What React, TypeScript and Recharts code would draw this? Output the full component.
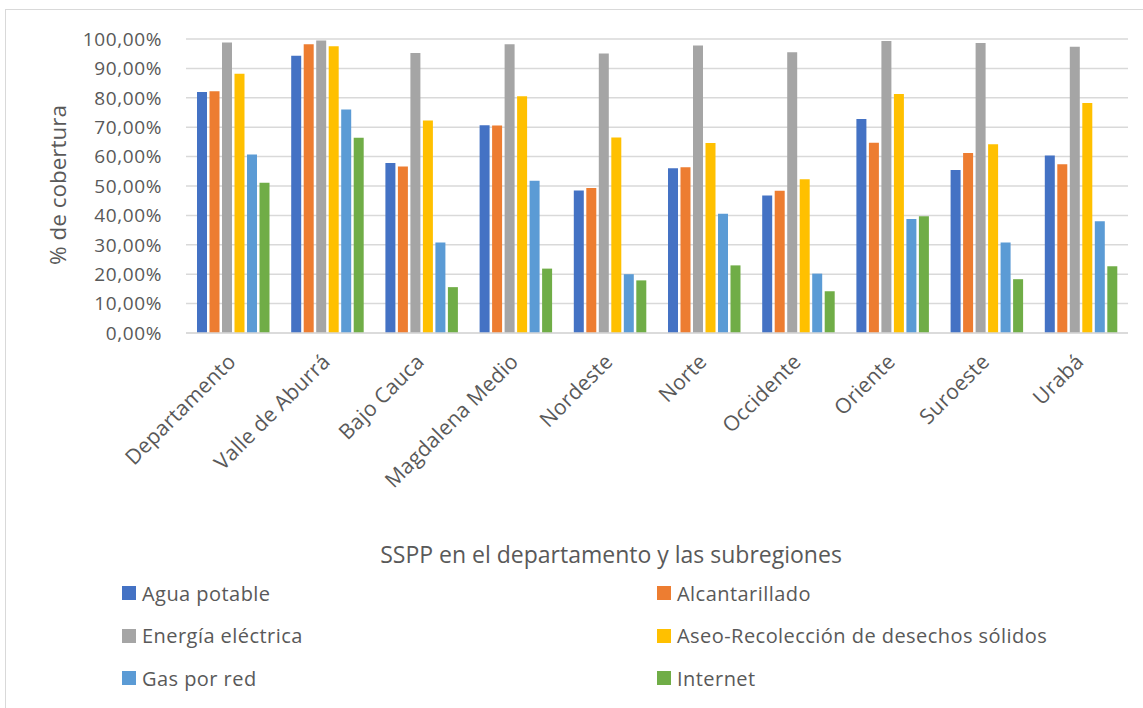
import { Bar, BarChart, CartesianGrid, XAxis, YAxis } from "recharts";

const CATEGORIES = [
  "Departamento",
  "Valle de Aburrá",
  "Bajo Cauca",
  "Magdalena Medio",
  "Nordeste",
  "Norte",
  "Occidente",
  "Oriente",
  "Suroeste",
  "Urabá",
];

const AGUA = [82.0, 94.3, 57.8, 70.7, 48.5, 56.0, 46.8, 72.8, 55.4, 60.4];
const ALCANTARILLADO = [82.2, 98.2, 56.6, 70.6, 49.3, 56.4, 48.4, 64.7, 61.2, 57.4];
const ENERGIA = [98.8, 99.5, 95.2, 98.2, 95.1, 97.8, 95.5, 99.3, 98.6, 97.4];
const ASEO = [88.2, 97.5, 72.3, 80.5, 66.5, 64.6, 52.3, 81.3, 64.2, 78.2];
const GAS = [60.7, 76.0, 30.8, 51.8, 20.0, 40.6, 20.2, 38.8, 30.8, 38.0];
const INTERNET = [51.1, 66.4, 15.6, 21.9, 17.9, 23.0, 14.2, 39.7, 18.3, 22.7];

const Y_TICKS = [0, 10, 20, 30, 40, 50, 60, 70, 80, 90, 100];

const SERIES = [
  { key: "agua", name: "Agua potable", color: "#4472C4", values: AGUA },
  { key: "alcantarillado", name: "Alcantarillado", color: "#ED7D31", values: ALCANTARILLADO },
  { key: "energia", name: "Energía eléctrica", color: "#A5A5A5", values: ENERGIA },
  { key: "aseo", name: "Aseo-Recolección de desechos sólidos", color: "#FFC000", values: ASEO },
  { key: "gas", name: "Gas por red", color: "#5B9BD5", values: GAS },
  { key: "internet", name: "Internet", color: "#70AD47", values: INTERNET },
];

const TEXT = "#595959";
const GRID = "#D9D9D9";
const FONT = "'Open Sans', sans-serif";

const data = CATEGORIES.map((name, i) => {
  const row: Record<string, string | number> = { name };
  SERIES.forEach((s) => {
    row[s.key] = s.values[i];
  });
  return row;
});

const formatPct = (v: number) => `${v.toFixed(2).replace(".", ",")}%`;

function CategoryTick({ x, y, payload }: any) {
  const tx = x + 4;
  const ty = y + 30;
  return (
    <text
      x={tx}
      y={ty}
      transform={`rotate(-45, ${tx}, ${ty})`}
      textAnchor="end"
      fill={TEXT}
      fontSize={21}
      fontFamily={FONT}
      letterSpacing={0.2}
    >
      {payload.value}
    </text>
  );
}

function Legend6() {
  // two columns, filled row by row like the spreadsheet legend
  return (
    <div
      style={{
        position: "absolute",
        left: 0,
        top: 0,
        width: 1143,
        height: 708,
        pointerEvents: "none",
        fontFamily: FONT,
        fontSize: 20,
        letterSpacing: 0.45,
        color: TEXT,
      }}
    >
      {SERIES.map((s, i) => {
        const col = i % 2;
        const row = Math.floor(i / 2);
        return (
          <div
            key={s.key}
            style={{
              position: "absolute",
              left: col === 0 ? 122 : 657,
              top: 593 + row * 42.5 - 14,
              height: 28,
              display: "flex",
              alignItems: "center",
              whiteSpace: "nowrap",
            }}
          >
            <span
              style={{
                display: "inline-block",
                width: 14,
                height: 14,
                background: s.color,
                marginRight: 6,
              }}
            />
            {s.name}
          </div>
        );
      })}
    </div>
  );
}

export default function App() {
  return (
    <div
      style={{
        position: "absolute",
        left: 0,
        top: 0,
        width: 1143,
        height: 708,
        background: "#fff",
        overflow: "hidden",
      }}
    >
      <div
        style={{
          position: "absolute",
          left: 5,
          top: 9,
          width: 1200,
          height: 800,
          border: `1px solid ${GRID}`,
        }}
      />
      <BarChart
        width={1143}
        height={708}
        data={data}
        margin={{ top: 39, right: 15, left: 0, bottom: 235 }}
        barCategoryGap={11}
        barGap={2.5}
        style={{ position: "absolute", left: 0, top: 0 }}
      >
        <CartesianGrid vertical={false} stroke={GRID} strokeWidth={1.5} />
        <XAxis
          dataKey="name"
          height={140}
          interval={0}
          tickLine={false}
          tickSize={0}
          tickMargin={0}
          axisLine={{ stroke: GRID, strokeWidth: 1.5 }}
          tick={<CategoryTick />}
          label={{
            content: () => (
              <text
                x={611}
                y={563}
                textAnchor="middle"
                fill={TEXT}
                fontSize={23}
                fontFamily={FONT}
              >
                SSPP en el departamento y las subregiones
              </text>
            ),
          }}
        />
        <YAxis
          width={186}
          domain={[0, 100]}
          ticks={Y_TICKS}
          interval={0}
          axisLine={false}
          tickLine={false}
          tickSize={0}
          tickMargin={24}
          tickFormatter={formatPct}
          tick={{ fill: TEXT, fontSize: 19, fontFamily: FONT, letterSpacing: 0.6 }}
          label={{
            content: () => (
              <text
                x={57}
                y={185}
                transform="rotate(-90, 57, 185)"
                textAnchor="middle"
                dominantBaseline="central"
                fill={TEXT}
                fontSize={22.5}
                fontFamily={FONT}
              >
                % de cobertura
              </text>
            ),
          }}
        />
        {SERIES.map((s) => (
          <Bar
            key={s.key}
            dataKey={s.key}
            name={s.name}
            fill={s.color}
            isAnimationActive={false}
          />
        ))}
      </BarChart>
      <Legend6 />
    </div>
  );
}
